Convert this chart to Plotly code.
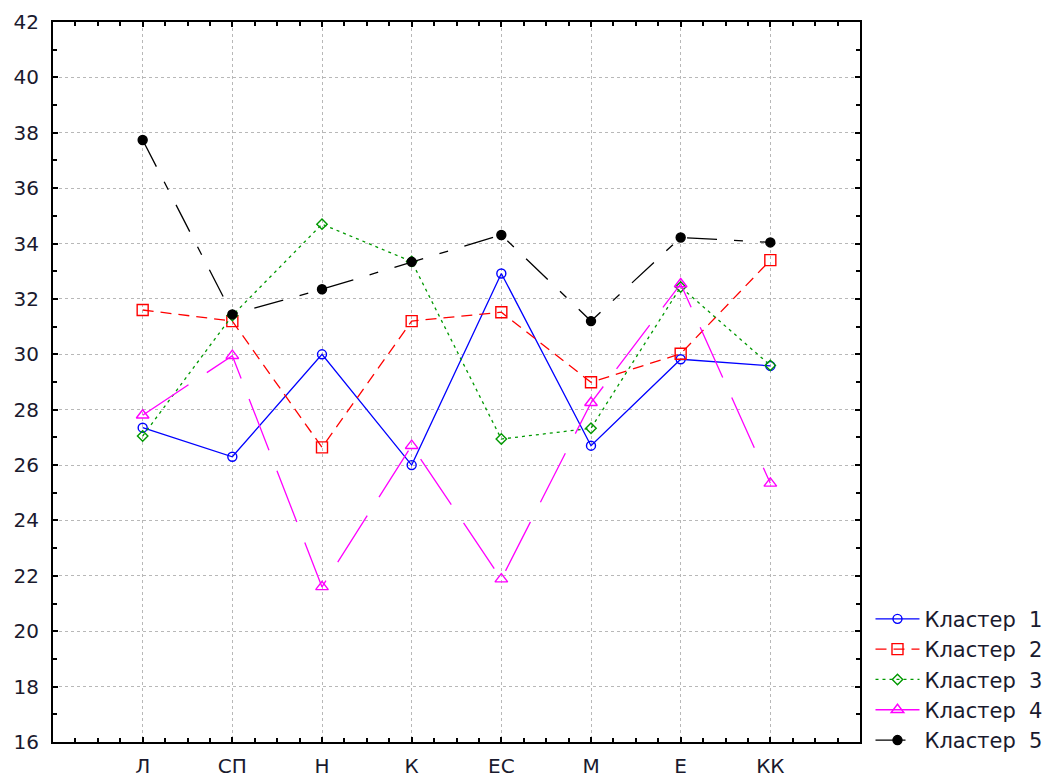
import plotly.graph_objects as go

categories = ["Л", "СП", "Н", "К", "ЕС", "М", "Е", "КК"]
series_names = ["Кластер\u00a0\u00a01", "Кластер\u00a0\u00a02", "Кластер\u00a0\u00a03", "Кластер\u00a0\u00a04", "Кластер\u00a0\u00a05"]
cluster1 = [27.35, 26.30, 30.00, 26.00, 32.92, 26.70, 29.82, 29.58]
cluster2 = [31.60, 31.20, 26.64, 31.20, 31.52, 28.99, 30.02, 33.40]
cluster3 = [27.05, 31.40, 34.70, 33.35, 26.94, 27.33, 32.43, 29.60]
cluster4 = [27.80, 29.95, 21.60, 26.70, 21.88, 28.25, 32.54, 25.34]
cluster5 = [37.74, 31.44, 32.35, 33.34, 34.31, 31.20, 34.22, 34.04]

yticks = list(range(16, 43, 2))

series = [cluster1, cluster2, cluster3, cluster4, cluster5]
colors = ["#0000ff", "#ff0000", "#009900", "#ff00ff", "#000000"]
dashes = ["solid", "11px,7px", "3px,4px", "55px,22px", "30px,17px,9px,17px"]
symbols = ["circle-open", "square-open", "diamond-open", "triangle-up-open", "circle"]
sizes = [9, 11, 8, 11, 9]

xidx = list(range(len(categories)))

FONT = "DejaVu Sans, Liberation Sans, Arial, sans-serif"

fig = go.Figure()
for name, vals, c, d, s, sz in zip(series_names, series, colors, dashes, symbols, sizes):
    fig.add_trace(go.Scatter(
        x=xidx, y=vals, name=name, mode="lines+markers",
        line=dict(color=c, width=1.3, dash=d),
        marker=dict(symbol=s, size=sz, color=c, line=dict(color=c, width=1.4)),
    ))

axis_common = dict(
    showline=True, linecolor="black", linewidth=2, mirror="allticks",
    ticks="inside", ticklen=5, tickwidth=1.5, tickcolor="black",
    showgrid=True, gridcolor="#b8b8b8", griddash="dot", gridwidth=1,
    zeroline=False, automargin=False,
    tickfont=dict(family=FONT, size=20, color="#1a1a2e"),
)

fig.update_xaxes(
    **axis_common,
    range=[-1, 8], tickmode="array", tickvals=xidx, ticktext=categories,
    minor=dict(dtick=0.25, tick0=0, ticks="inside", ticklen=4, tickcolor="black", showgrid=False),
    ticklabelstandoff=5,
)
fig.update_yaxes(
    **axis_common,
    range=[16, 42], tickmode="array", tickvals=yticks,
    minor=dict(dtick=1, tick0=0, ticks="inside", ticklen=4, tickcolor="black", showgrid=False),
    ticklabelstandoff=8,
)

fig.update_layout(
    width=1045, height=770,
    margin=dict(l=45, r=193, t=14, b=36, autoexpand=False),
    paper_bgcolor="white", plot_bgcolor="white",
    font=dict(family=FONT, color="black"),
    legend=dict(
        x=1.013, y=-0.026, xanchor="left", yanchor="bottom",
        font=dict(size=21, color="#1a1a2e"),
        itemwidth=44, tracegroupgap=0,
        bgcolor="rgba(0,0,0,0)",
    ),
    showlegend=True,
)

fig.write_html("out.html")
